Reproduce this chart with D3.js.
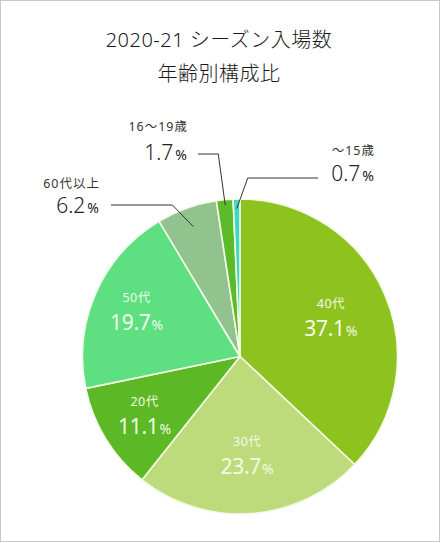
<!DOCTYPE html>
<html><head><meta charset="utf-8">
<script src="https://cdn.jsdelivr.net/npm/d3@7"></script>
<style>
html,body{margin:0;padding:0;background:#fff;}
svg{display:block;font-family:"Noto Sans","Noto Sans CJK JP",sans-serif;}
</style></head>
<body>
<svg id="c" width="440" height="543"></svg>
<script>
const titleLines = ["2020-21 シーズン入場数", "年齢別構成比"];
const categories = ["40代", "30代", "20代", "50代", "60代以上", "16〜19歳", "〜15歳"];
const values = [37.1, 23.7, 11.1, 19.7, 6.2, 1.7, 0.7];
const colors = ["#8dc21f", "#bddb7b", "#5db825", "#5ddf82", "#92c38f", "#5cbb2a", "#3fd7c2"];
const inside = [true, true, true, true, false, false, false];

const svg = d3.select("#c");
const W = 440, H = 543;
svg.append("rect").attr("x",0.5).attr("y",0.5).attr("width",W-1).attr("height",H-2)
  .attr("fill","#fff").attr("stroke","#c9c9c9");

svg.selectAll("text.title").data(titleLines).join("text")
  .attr("class","title").attr("x",219).attr("y",(d,i)=>47+i*34)
  .attr("text-anchor","middle").attr("font-size",20).attr("font-weight",300)
  .attr("letter-spacing",0.5).attr("fill","#1a1a1a").text(d=>d);

const cx = 240, cy = 356.5, R = 157.5;
const g = svg.append("g").attr("transform",`translate(${cx},${cy})`);
const pie = d3.pie().sort(null).value(d=>d.v);
const data = categories.map((c,i)=>({c, v: values[i], col: colors[i], inside: inside[i]}));
const arcs = pie(data);
const arc = d3.arc().innerRadius(0).outerRadius(R);

g.selectAll("path").data(arcs).join("path")
  .attr("d", arc).attr("fill", d=>d.data.col)
  .attr("stroke","#f3fae6").attr("stroke-width",1.6).attr("stroke-linejoin","round");

// inside labels
const inR = {"40代":99, "30代":99, "20代":112, "50代":113};
const inArcs = arcs.filter(d=>d.data.inside);
const lab = g.selectAll("g.in").data(inArcs).join("g").attr("class","in")
  .attr("transform", d=>{
    const a=(d.startAngle+d.endAngle)/2, r=inR[d.data.c];
    return `translate(${Math.sin(a)*r},${-Math.cos(a)*r})`;
  });
lab.append("text").attr("y",-9).attr("text-anchor","middle").attr("font-size",12.5)
  .attr("letter-spacing",0.5).attr("fill","#f4fae8").text(d=>d.data.c);
const vt = lab.append("text").attr("y",19).attr("text-anchor","middle").attr("fill","#f4fae8");
vt.append("tspan").attr("font-size",21).attr("font-weight",400).attr("letter-spacing",-0.3).text(d=>d3.format(".1f")(d.data.v));
vt.append("tspan").attr("font-size",14).attr("dx",1).text("%");

// outside labels with leader lines
const outCfg = {
  "60代以上": {tipR:138, elbowOff:-21, elbowY:205, lineEndX:111, textX:100, nameY:188, valY:213},
  "16〜19歳": {tipR:152, elbowOff:-7,  elbowY:154, lineEndX:198, textX:188, nameY:131, valY:160},
  "〜15歳":   {tipR:148, elbowOff:11,  elbowY:178, lineEndX:318, textX:375, nameY:155, valY:181}
};
arcs.filter(d=>!d.data.inside).forEach(d=>{
  const c = outCfg[d.data.c];
  const a = (d.startAngle+d.endAngle)/2;
  const tx = cx + Math.sin(a)*c.tipR, ty = cy - Math.cos(a)*c.tipR;
  svg.append("path")
    .attr("d", d3.line()([[tx,ty],[tx+c.elbowOff,c.elbowY],[c.lineEndX,c.elbowY]]))
    .attr("fill","none").attr("stroke","#333").attr("stroke-width",1);
  svg.append("text").attr("x",c.textX).attr("y",c.nameY).attr("text-anchor","end")
    .attr("font-size",12.5).attr("letter-spacing",1).attr("fill","#333").text(d.data.c);
  const t = svg.append("text").attr("x",c.textX-1).attr("y",c.valY).attr("text-anchor","end").attr("fill","#222");
  t.append("tspan").attr("font-size",21).attr("font-weight",300).text(d3.format(".1f")(d.data.v));
  t.append("tspan").attr("font-size",14).attr("dx",2).text("%");
});
</script>
</body></html>
